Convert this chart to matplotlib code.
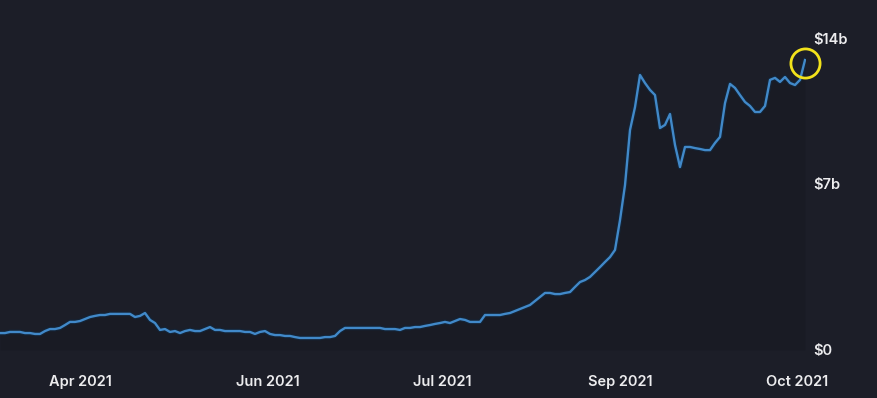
import matplotlib
matplotlib.use("Agg")
import matplotlib.pyplot as plt
import matplotlib.transforms as mtransforms
import numpy as np

# volume in billions of USD, one reading per step along the x-axis
volume = [
    0.76, 0.76, 0.81, 0.81, 0.81, 0.76, 0.76, 0.72, 0.72, 0.85,
    0.94, 0.94, 0.99, 1.12, 1.26, 1.26, 1.30, 1.39, 1.48, 1.53,
    1.57, 1.57, 1.62, 1.62, 1.62, 1.62, 1.62, 1.48, 1.53, 1.66,
    1.35, 1.21, 0.90, 0.94, 0.81, 0.85, 0.76, 0.85, 0.90, 0.85,
    0.85, 0.94, 1.03, 0.90, 0.90, 0.85, 0.85, 0.85, 0.85, 0.81,
    0.81, 0.72, 0.81, 0.85, 0.72, 0.67, 0.67, 0.63, 0.63, 0.58,
    0.54, 0.54, 0.54, 0.54, 0.54, 0.58, 0.58, 0.63, 0.85, 0.99,
    0.99, 0.99, 0.99, 0.99, 0.99, 0.99, 0.99, 0.94, 0.94, 0.94,
    0.90, 0.99, 0.99, 1.03, 1.03, 1.08, 1.12, 1.17, 1.21, 1.26,
    1.21, 1.30, 1.39, 1.35, 1.26, 1.26, 1.26, 1.57, 1.57, 1.57,
    1.57, 1.62, 1.66, 1.75, 1.84, 1.93, 2.02, 2.20, 2.38, 2.56,
    2.56, 2.51, 2.51, 2.56, 2.60, 2.83, 3.05, 3.14, 3.28, 3.50,
    3.72, 3.95, 4.17, 4.49, 5.83, 7.40, 9.87, 10.90, 12.34, 11.98,
    11.67, 11.44, 9.96, 10.10, 10.59, 9.20, 8.21, 9.11, 9.11, 9.06,
    9.02, 8.97, 8.97, 9.29, 9.56, 11.08, 11.94, 11.76, 11.44, 11.13,
    10.95, 10.68, 10.68, 10.95, 12.12, 12.21, 12.03, 12.25, 11.98, 11.89,
    12.12, 13.01,
]
tick_pos = [16, 53.6, 88.4, 124, 159.4]
tick_labels = ["Apr 2021", "Jun 2021", "Jul 2021", "Sep 2021", "Oct 2021"]
y_ticks = [0, 7, 14]
y_labels = ["$0", "$7b", "$14b"]

bg = "#1c1e28"
line_col = "#4189c9"
txt = "#ececee"

plt.rcParams["font.family"] = ["Inter", "DejaVu Sans"]

fig = plt.figure(figsize=(8.77, 3.98), dpi=100, facecolor=bg)
ax = fig.add_axes([0, 48 / 398, 806 / 877, 312 / 398], facecolor=bg)

x = np.arange(len(volume))
ax.fill_between(x, volume, 0, color="#15161c", alpha=0.3, lw=0)
# soft dark halo under the line
ax.plot(x, volume, color="#13263a", lw=3.4, solid_joinstyle="round", alpha=0.8)
ax.plot(x, volume, color=line_col, lw=1.7, solid_joinstyle="round")
ax.plot(x[-1], volume[-1] - 0.15, "o", ms=21, mfc="none", mec="#f2e21b",
        mew=2.0, clip_on=False)

ax.set_xlim(0, len(volume) - 0.8)
ax.set_ylim(0, 14)
ax.set_xticks(tick_pos)
ax.set_xticklabels(tick_labels)
ax.set_yticks(y_ticks)
ax.set_yticklabels(y_labels)
ax.yaxis.tick_right()
ax.tick_params(axis="x", length=0, pad=18, labelsize=10.5, labelcolor=txt)
ax.tick_params(axis="y", length=0, pad=5, labelsize=10.5, labelcolor=txt)
for lab in ax.get_xticklabels() + ax.get_yticklabels():
    lab.set_fontweight("semibold")
# the middle label sits a little higher than its gridline in the original
mid = ax.get_yticklabels()[1]
mid.set_transform(mid.get_transform() +
                  mtransforms.ScaledTranslation(0, 11 / 100, fig.dpi_scale_trans))
for s in ax.spines.values():
    s.set_visible(False)

fig.savefig("out.png", dpi=100, facecolor=bg)
